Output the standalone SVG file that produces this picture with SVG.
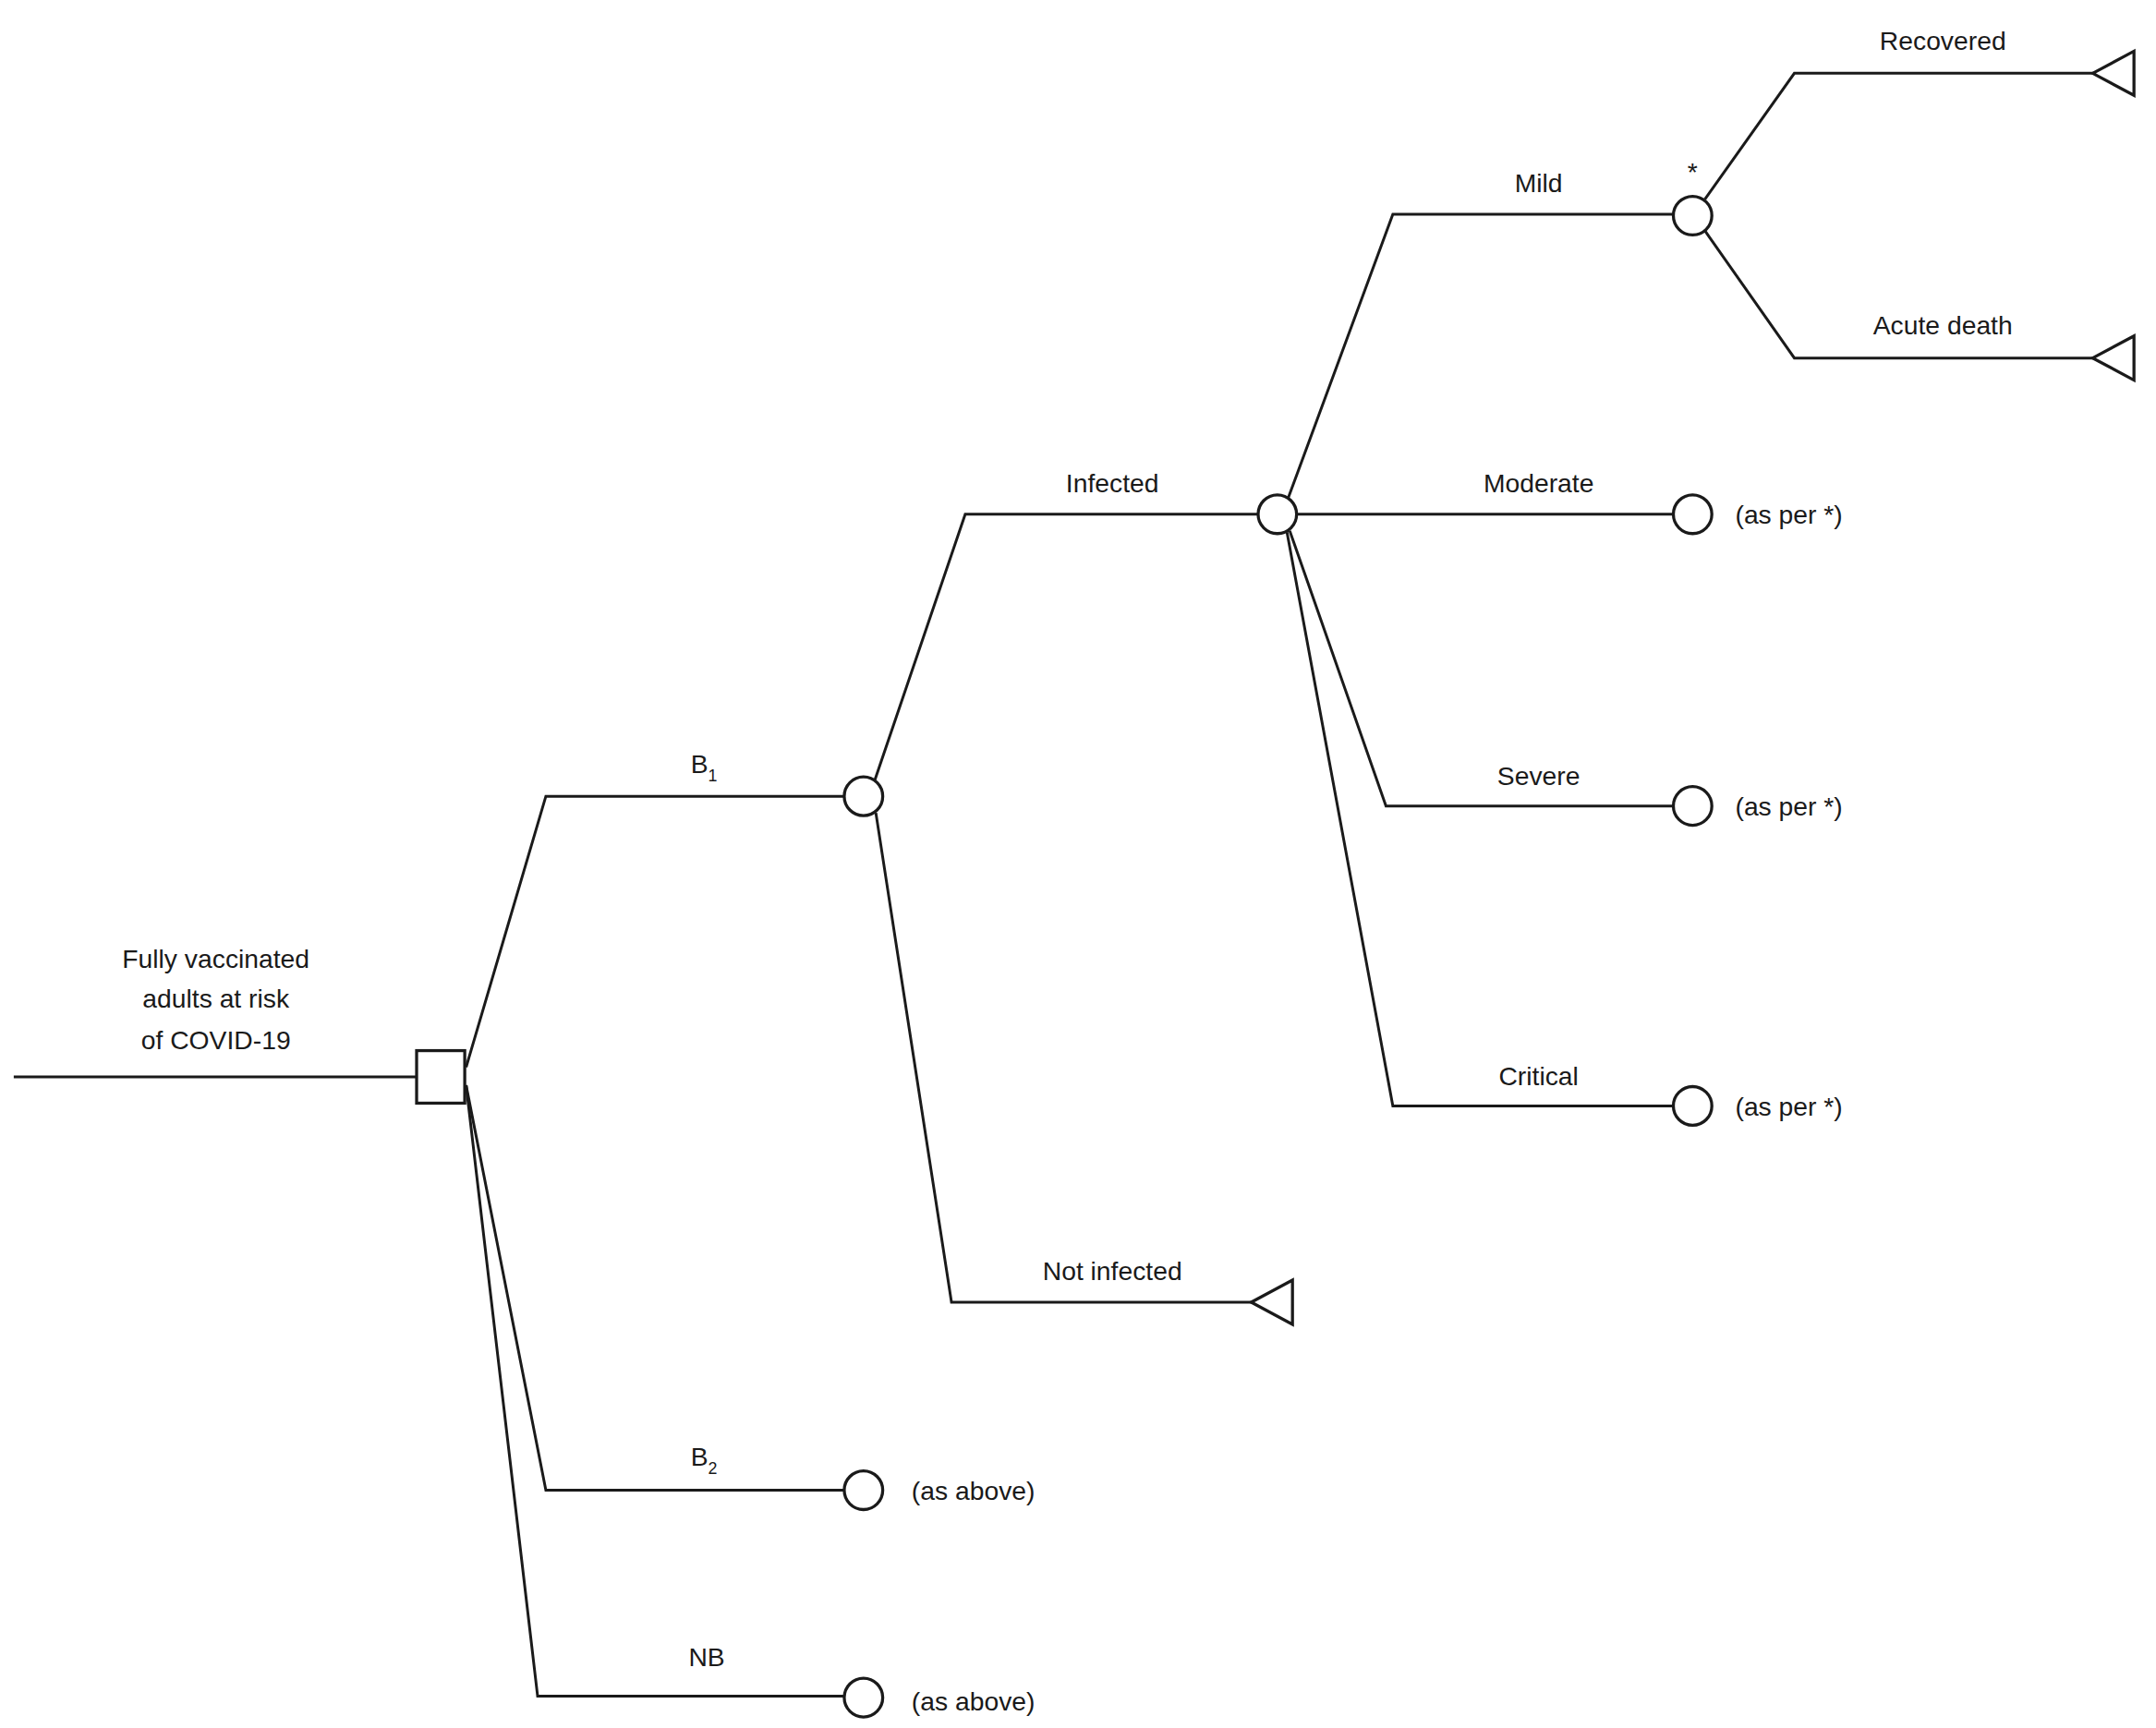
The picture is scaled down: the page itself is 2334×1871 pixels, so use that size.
<svg xmlns="http://www.w3.org/2000/svg" width="2334" height="1871" viewBox="0 0 2334 1871">
<style>
.l{fill:none;stroke:#1a1a1a;stroke-width:2;stroke-linejoin:miter}
.c{fill:#fff;stroke:#1a1a1a;stroke-width:2.2}
.t{font-family:"Liberation Sans",Arial,sans-serif;font-size:19px;fill:#1a1a1a;text-anchor:middle}
.s{text-anchor:start}
</style>
<rect width="2334" height="1871" fill="#fff"/>
<g transform="scale(1.4885,1.4968)">
<g id="connectors">
<path class="l" d="M10,779 H303"/>
<path class="l" d="M339,772 L397,576 H614"/>
<path class="l" d="M339,785 L397,1078 H614"/>
<path class="l" d="M339,785 L391,1227 H614"/>
<path class="l" d="M636,565 L702,372 H915"/>
<path class="l" d="M637,588 L692,942 H912"/>
<path class="l" d="M937,360 L1013,155 H1217"/>
<path class="l" d="M943,372 H1217"/>
<path class="l" d="M938,384 L1008,583 H1217"/>
<path class="l" d="M936,385 L1013,800 H1217"/>
<path class="l" d="M1240,144 L1305,53 H1524"/>
<path class="l" d="M1240,167 L1305,259 H1524"/>
</g>
<g id="root"><rect class="c" x="303" y="760" width="35" height="38" stroke-width="3"/>
<text class="t" x="157" y="700">Fully vaccinated</text><text class="t" x="157" y="729">adults at risk</text><text class="t" x="157" y="759">of COVID-19</text></g>
<g id="b1"><circle class="c" cx="628" cy="576" r="14"/><text class="t" x="512" y="559">B<tspan font-size="12" dy="6">1</tspan></text></g>
<g id="b2"><circle class="c" cx="628" cy="1078" r="14"/><text class="t" x="512" y="1060">B<tspan font-size="12" dy="6">2</tspan></text><text class="t s" x="663" y="1085">(as above)</text></g>
<g id="nb"><circle class="c" cx="628" cy="1228" r="14"/><text class="t" x="514" y="1205">NB</text><text class="t s" x="663" y="1237">(as above)</text></g>
<g id="infected"><circle class="c" cx="929" cy="372" r="14"/><text class="t" x="809" y="356">Infected</text></g>
<g id="notinfected"><polygon class="c" points="910,942 940,926 940,958"/><text class="t" x="809" y="926">Not infected</text></g>
<g id="mild"><circle class="c" cx="1231" cy="156" r="14"/><text class="t" x="1119" y="139">Mild</text><text class="t" x="1231" y="131" font-size="13">*</text></g>
<g id="moderate"><circle class="c" cx="1231" cy="372" r="14"/><text class="t" x="1119" y="356">Moderate</text><text class="t s" x="1262" y="379">(as per *)</text></g>
<g id="severe"><circle class="c" cx="1231" cy="583" r="14"/><text class="t" x="1119" y="568">Severe</text><text class="t s" x="1262" y="590">(as per *)</text></g>
<g id="critical"><circle class="c" cx="1231" cy="800" r="14"/><text class="t" x="1119" y="785">Critical</text><text class="t s" x="1262" y="807">(as per *)</text></g>
<g id="recovered"><polygon class="c" points="1522,53 1552,37 1552,69"/><text class="t" x="1413" y="36">Recovered</text></g>
<g id="death"><polygon class="c" points="1522,259 1552,243 1552,275"/><text class="t" x="1413" y="242">Acute death</text></g>
</g>
</svg>
